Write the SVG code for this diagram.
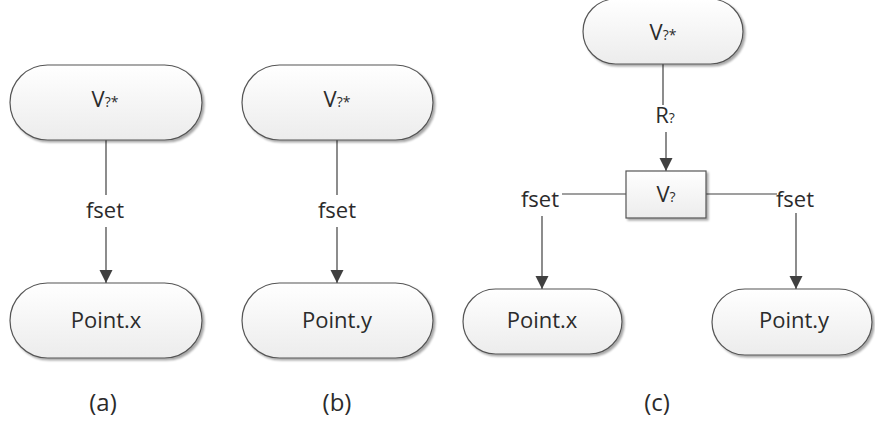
<svg xmlns="http://www.w3.org/2000/svg" width="875" height="425" viewBox="0 0 875 425">
  <defs>
    <linearGradient id="nodeFill" x1="0" y1="0" x2="0" y2="1">
      <stop offset="0" stop-color="#ffffff"/>
      <stop offset="1" stop-color="#ececec"/>
    </linearGradient>
    <filter id="shadow" x="-10%" y="-10%" width="125%" height="135%">
      <feGaussianBlur in="SourceAlpha" stdDeviation="1.2"/>
      <feOffset dx="1.5" dy="2" result="b"/>
      <feComponentTransfer><feFuncA type="linear" slope="0.35"/></feComponentTransfer>
      <feMerge><feMergeNode/><feMergeNode in="SourceGraphic"/></feMerge>
    </filter>
    <marker id="arrow" markerUnits="userSpaceOnUse" markerWidth="14" markerHeight="14" refX="13" refY="6.5" orient="auto">
      <path d="M0,0 L13,6.5 L0,13 Z" fill="#404040"/>
    </marker>
  </defs>
  <style>
    .node { fill: url(#nodeFill); stroke: #555; stroke-width: 1.2; filter: url(#shadow); }
    .lbl { font-family: "Open Sans", "Liberation Sans", sans-serif; font-size: 22px; fill: #2b2b2b; text-anchor: middle; }
    .sm { font-size: 14px; }
    .cap { font-family: "Open Sans", "Liberation Sans", sans-serif; font-size: 24px; fill: #2b2b2b; text-anchor: middle; }
    .edge { stroke: #404040; stroke-width: 1.2; fill: none; }
  </style>

  <!-- connectors -->
  <g id="connectors">
    <!-- (a) -->
    <line class="edge" x1="106" y1="140" x2="106" y2="195"/>
    <line class="edge" x1="106" y1="227" x2="106" y2="283" marker-end="url(#arrow)"/>
    <text class="lbl" x="105" y="218">fset</text>
    <!-- (b) -->
    <line class="edge" x1="337" y1="140" x2="337" y2="195"/>
    <line class="edge" x1="337" y1="227" x2="337" y2="283" marker-end="url(#arrow)"/>
    <text class="lbl" x="337" y="218">fset</text>
    <!-- (c) -->
    <line class="edge" x1="663" y1="64" x2="663" y2="105"/>
    <line class="edge" x1="666" y1="132" x2="666" y2="171" marker-end="url(#arrow)"/>
    <text class="lbl" x="665" y="123">R<tspan class="sm">?</tspan></text>
    <line class="edge" x1="626" y1="194" x2="562" y2="194"/>
    <text class="lbl" x="540" y="207">fset</text>
    <line class="edge" x1="542" y1="216" x2="542" y2="289" marker-end="url(#arrow)"/>
    <line class="edge" x1="706" y1="194" x2="777" y2="194"/>
    <text class="lbl" x="795" y="207">fset</text>
    <line class="edge" x1="796" y1="213" x2="796" y2="289" marker-end="url(#arrow)"/>
  </g>

  <!-- (a) nodes -->
  <g id="a-src">
    <rect class="node" x="10" y="65" width="192" height="75" rx="37.5"/>
    <text class="lbl" x="105" y="107">V<tspan class="sm">?*</tspan></text>
  </g>
  <g id="a-point-x">
    <rect class="node" x="10" y="283" width="192" height="75" rx="37.5"/>
    <text class="lbl" x="106" y="328">Point.x</text>
  </g>

  <!-- (b) nodes -->
  <g id="b-src">
    <rect class="node" x="242" y="65" width="191" height="75" rx="37.5"/>
    <text class="lbl" x="337" y="107">V<tspan class="sm">?*</tspan></text>
  </g>
  <g id="b-point-y">
    <rect class="node" x="242" y="283" width="191" height="75" rx="37.5"/>
    <text class="lbl" x="337" y="328">Point.y</text>
  </g>

  <!-- (c) nodes -->
  <g id="c-src">
    <rect class="node" x="583" y="-1" width="160" height="65" rx="32.5"/>
    <text class="lbl" x="663" y="40">V<tspan class="sm">?*</tspan></text>
  </g>
  <g id="c-v">
    <rect class="node" x="626" y="171" width="80" height="47"/>
    <text class="lbl" x="666" y="202">V<tspan class="sm">?</tspan></text>
  </g>
  <g id="c-point-x">
    <rect class="node" x="463" y="289" width="159" height="65" rx="32.5"/>
    <text class="lbl" x="542" y="328">Point.x</text>
  </g>
  <g id="c-point-y">
    <rect class="node" x="712" y="289" width="160" height="66" rx="33"/>
    <text class="lbl" x="794" y="328">Point.y</text>
  </g>

  <!-- panel captions -->
  <text class="cap" x="103" y="411">(a)</text>
  <text class="cap" x="337" y="411">(b)</text>
  <text class="cap" x="657" y="411">(c)</text>
</svg>
